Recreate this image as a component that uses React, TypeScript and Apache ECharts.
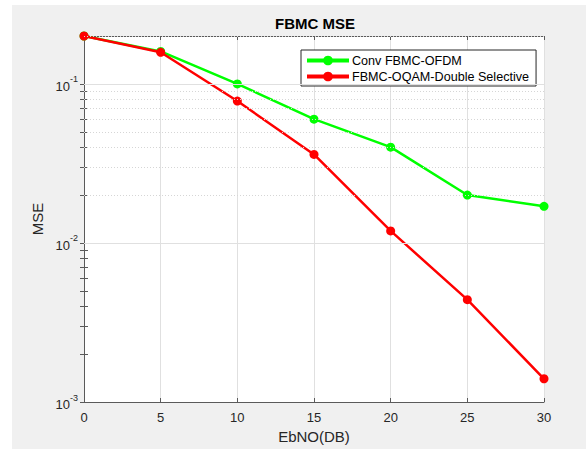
import React, { useEffect, useRef } from "react";
import * as echarts from "echarts";

const ebno = [0, 5, 10, 15, 20, 25, 30];
const convFbmcOfdm = [0.2, 0.16, 0.1, 0.06, 0.04, 0.02, 0.017];
const fbmcOqamDs = [0.2, 0.158, 0.078, 0.036, 0.0119, 0.0044, 0.0014];
const seriesNames = ["Conv FBMC-OFDM", "FBMC-OQAM-Double Selective"];
const majorY = [0.001, 0.01, 0.1];
const minorY = [
  0.002, 0.003, 0.004, 0.005, 0.006, 0.007, 0.008, 0.009,
  0.02, 0.03, 0.04, 0.05, 0.06, 0.07, 0.08, 0.09, 0.2,
];

export default function App() {
  const ref = useRef<HTMLDivElement>(null);
  useEffect(() => {
    if (!ref.current) return;
    const chart = echarts.init(ref.current, null, { renderer: "svg" });
    const font = "'Liberation Sans', Arial, Helvetica, sans-serif";
    const axisColor = "#5a5a5a";
    const textColor = "#262626";
    const allTicks = [...majorY, ...minorY].sort((a, b) => a - b);
    const yAxisBase = {
      type: "log" as const,
      logBase: 10,
      min: 0.001,
      max: 0.2,
      splitLine: { show: false },
      axisLine: { show: true, lineStyle: { color: axisColor, width: 1 } },
      axisTick: {
        show: true,
        inside: true,
        length: 4,
        customValues: allTicks,
        lineStyle: { color: axisColor },
      },
    };
    chart.setOption({
      animation: false,
      backgroundColor: "#ffffff",
      textStyle: { fontFamily: font },
      graphic: [
        {
          type: "rect",
          z: -10,
          shape: { x: 12, y: 5, width: 574, height: 444 },
          style: { fill: "#f0f0f0" },
          silent: true,
        },
      ],
      title: {
        text: "FBMC MSE",
        left: 315,
        textAlign: "center",
        top: 16,
        padding: 0,
        textStyle: { fontFamily: font, fontSize: 15, fontWeight: "bold", color: "#000" },
      },
      grid: {
        left: 84,
        right: 42,
        top: 36,
        bottom: 45,
        show: true,
        backgroundColor: "#ffffff",
        borderWidth: 0,
      },
      legend: {
        data: seriesNames,
        orient: "vertical",
        left: 301,
        top: 50,
        width: 238,
        backgroundColor: "#ffffff",
        borderColor: "#262626",
        borderWidth: 1,
        borderRadius: 0,
        padding: [4, 7, 3, 4],
        itemGap: 3,
        itemWidth: 42,
        itemHeight: 12,
        lineStyle: { width: 4 },
        textStyle: { fontFamily: font, fontSize: 12.6, color: "#000", padding: [0, 0, 0, -2] },
      },
      xAxis: [
        {
          type: "value",
          min: 0,
          max: 30,
          interval: 5,
          name: "EbNO(DB)",
          nameLocation: "middle",
          nameGap: 27,
          nameTextStyle: { fontFamily: font, fontSize: 15, color: textColor },
          axisLine: { show: true, lineStyle: { color: axisColor } },
          axisTick: { show: true, inside: true, length: 4, lineStyle: { color: axisColor } },
          axisLabel: { fontFamily: font, fontSize: 13, color: textColor, margin: 9 },
          splitLine: { show: true, lineStyle: { color: "#e0e0e0", width: 1 } },
        },
        {
          type: "value",
          position: "top",
          min: 0,
          max: 30,
          interval: 5,
          axisLine: { show: true, onZero: false, lineStyle: { color: axisColor } },
          axisTick: { show: true, inside: true, length: 4, lineStyle: { color: axisColor } },
          axisLabel: { show: false },
          splitLine: { show: false },
        },
      ],
      yAxis: [
        {
          ...yAxisBase,
          name: "MSE",
          nameLocation: "middle",
          nameGap: 38,
          nameTextStyle: { fontFamily: font, fontSize: 15, color: textColor },
          axisLabel: {
            customValues: majorY,
            margin: 6,
            formatter: (v: number) => `{b|10}{s|${Math.round(Math.log10(v))}}`,
            rich: {
              b: { fontFamily: font, fontSize: 13, color: textColor, verticalAlign: "bottom" },
              s: {
                fontFamily: font,
                fontSize: 9,
                color: textColor,
                padding: [0, 0, 9, 0],
                verticalAlign: "bottom",
              },
            },
          },
        },
        {
          ...yAxisBase,
          position: "right",
          axisLabel: { show: false },
        },
      ],
      series: [
        {
          name: "grid",
          type: "line",
          data: [],
          z: 1,
          silent: true,
          markLine: {
            silent: true,
            symbol: "none",
            label: { show: false },
            animation: false,
            data: [
              ...minorY.map((v) => ({
                yAxis: v,
                lineStyle: { color: "#d6d6d6", type: [1, 2], width: 1 },
              })),
              ...[0.01, 0.1].map((v) => ({
                yAxis: v,
                lineStyle: { color: "#e0e0e0", type: "solid", width: 1 },
              })),
            ],
          },
        },
        {
          name: seriesNames[0],
          type: "line",
          z: 3,
          data: ebno.map((x, i) => [x, convFbmcOfdm[i]]),
          symbol: "circle",
          symbolSize: 9,
          lineStyle: { color: "#00ff00", width: 2.5 },
          itemStyle: { color: "#00ff00" },
        },
        {
          name: seriesNames[1],
          type: "line",
          z: 4,
          data: ebno.map((x, i) => [x, fbmcOqamDs[i]]),
          symbol: "circle",
          symbolSize: 9,
          lineStyle: { color: "#ff0000", width: 2.5 },
          itemStyle: { color: "#ff0000" },
        },
      ],
    });
    return () => chart.dispose();
  }, []);
  return (
    <div
      ref={ref}
      style={{ position: "absolute", left: 0, top: 0, width: 586, height: 449 }}
    />
  );
}
